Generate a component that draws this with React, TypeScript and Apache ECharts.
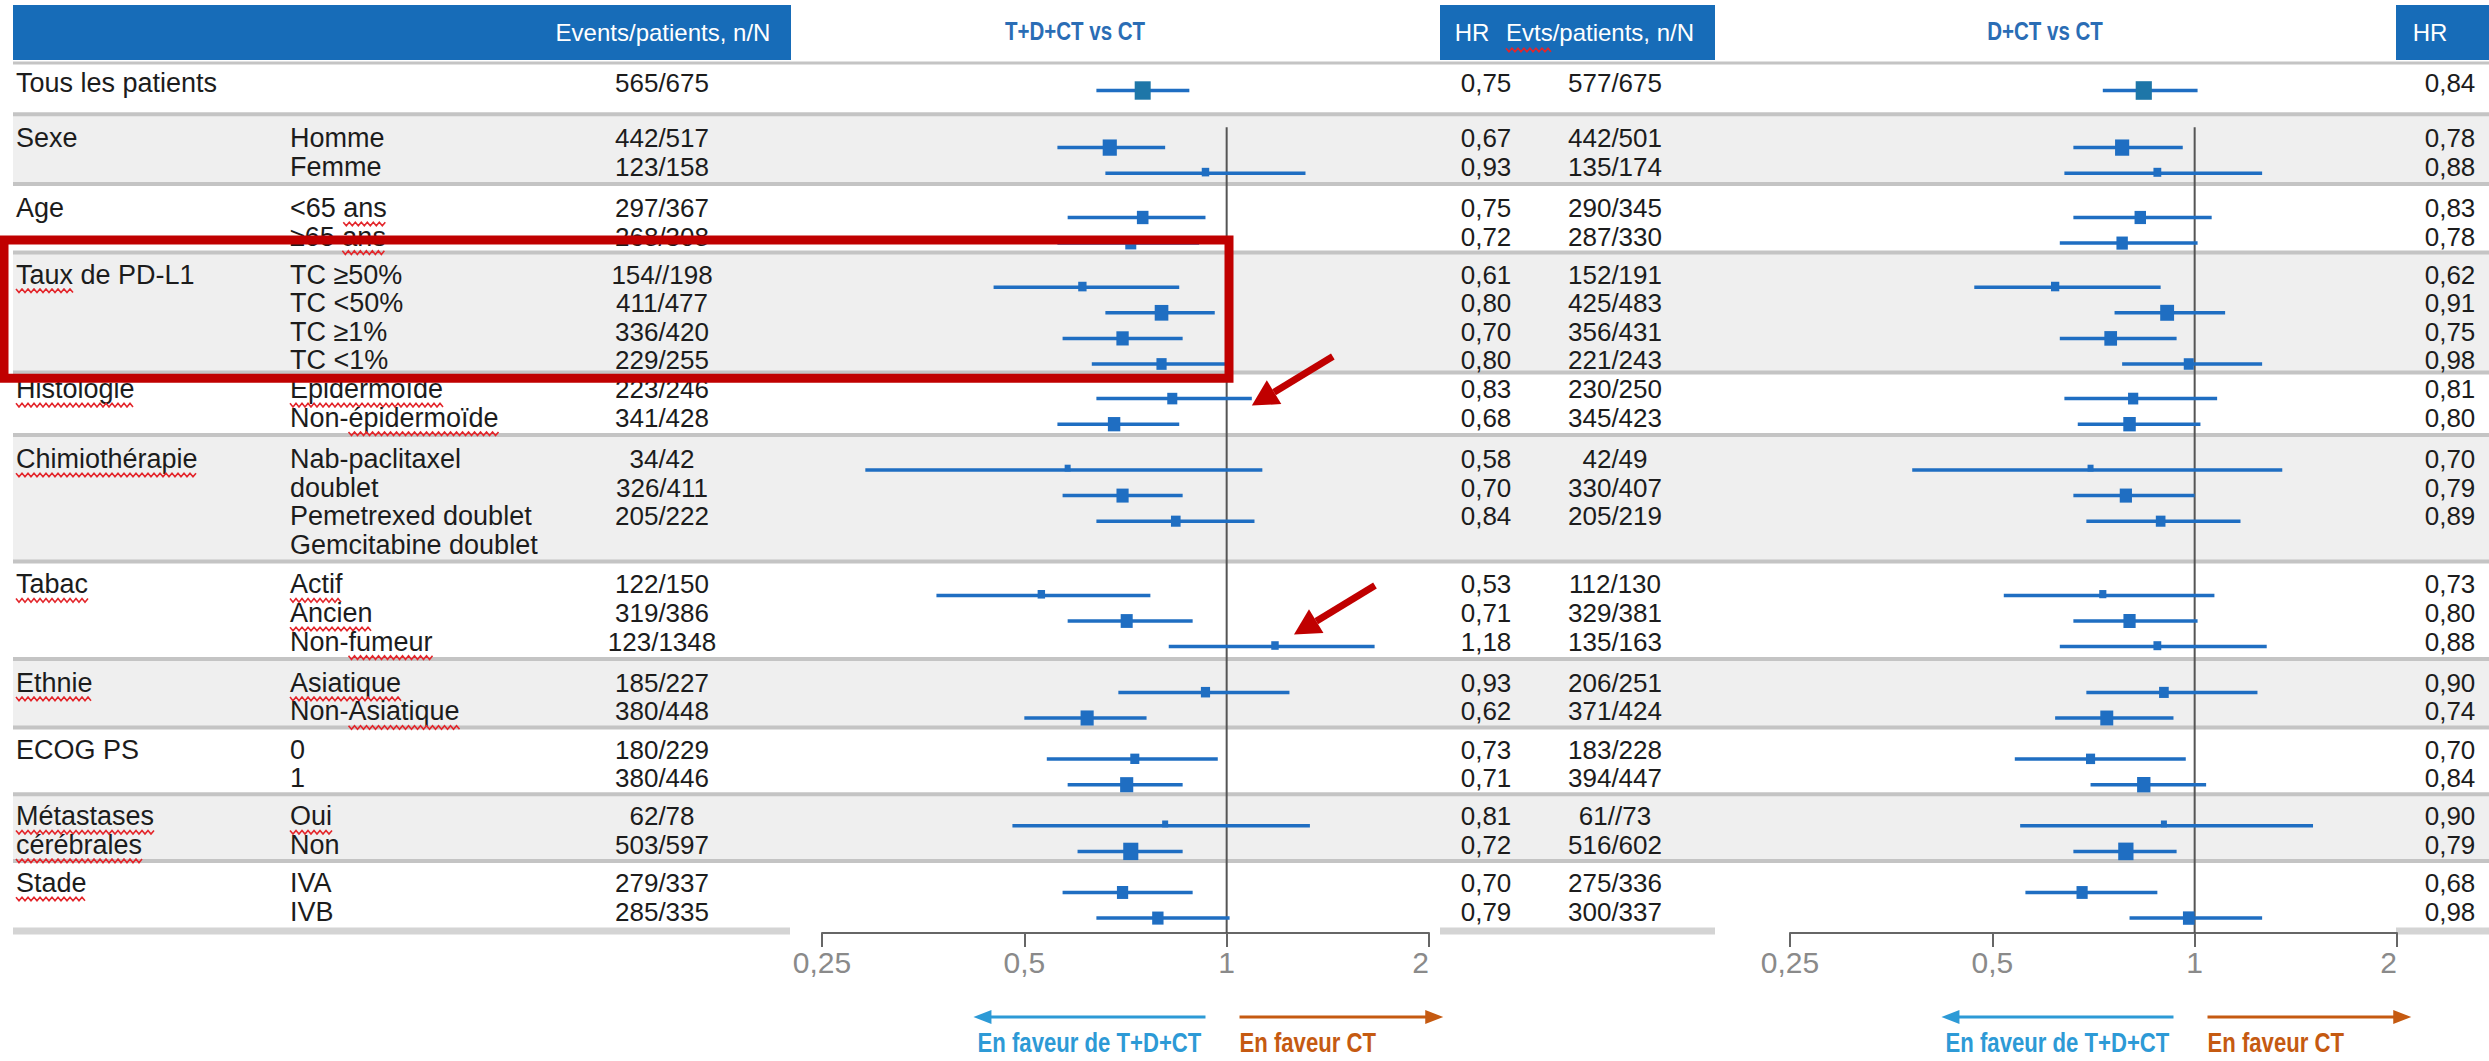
import React, { useEffect, useRef } from "react";
import * as echarts from "echarts";

const W = 2489;
const H = 1061;

// ---------------- data ----------------
const groupCol = ["Tous les patients", "Sexe", "", "Age", "", "Taux de PD-L1", "", "", "", "Histologie", "", "Chimiothérapie", "", "", "", "Tabac", "", "", "Ethnie", "", "ECOG PS", "", "Métastases", "cérébrales", "Stade", ""];
const subCol = ["", "Homme", "Femme", "<65 ans", "≥65 ans", "TC ≥50%", "TC <50%", "TC ≥1%", "TC <1%", "Epidermoïde", "Non-épidermoïde", "Nab-paclitaxel", "doublet", "Pemetrexed doublet", "Gemcitabine doublet", "Actif", "Ancien", "Non-fumeur", "Asiatique", "Non-Asiatique", "0", "1", "Oui", "Non", "IVA", "IVB"];
const rowGroup = [0, 1, 1, 2, 2, 3, 3, 3, 3, 4, 4, 5, 5, 5, 5, 6, 6, 6, 7, 7, 8, 8, 9, 9, 10, 10];

const nN_TDCT = ["565/675", "442/517", "123/158", "297/367", "268/308", "154//198", "411/477", "336/420", "229/255", "223/246", "341/428", "34/42", "326/411", "205/222", "", "122/150", "319/386", "123/1348", "185/227", "380/448", "180/229", "380/446", "62/78", "503/597", "279/337", "285/335"];
const hr_TDCT = [0.75, 0.67, 0.93, 0.75, 0.72, 0.61, 0.80, 0.70, 0.80, 0.83, 0.68, 0.58, 0.70, 0.84, null, 0.53, 0.71, 1.18, 0.93, 0.62, 0.73, 0.71, 0.81, 0.72, 0.70, 0.79];
const lo_TDCT = [0.64, 0.56, 0.66, 0.58, 0.56, 0.45, 0.66, 0.57, 0.63, 0.64, 0.56, 0.29, 0.57, 0.64, null, 0.37, 0.58, 0.82, 0.69, 0.50, 0.54, 0.58, 0.48, 0.60, 0.57, 0.64];
const hi_TDCT = [0.88, 0.81, 1.31, 0.93, 0.91, 0.85, 0.96, 0.86, 1.01, 1.09, 0.85, 1.13, 0.86, 1.10, null, 0.77, 0.89, 1.66, 1.24, 0.76, 0.97, 0.86, 1.33, 0.86, 0.89, 1.01];

const nN_DCT = ["577/675", "442/501", "135/174", "290/345", "287/330", "152/191", "425/483", "356/431", "221/243", "230/250", "345/423", "42/49", "330/407", "205/219", "", "112/130", "329/381", "135/163", "206/251", "371/424", "183/228", "394/447", "61//73", "516/602", "275/336", "300/337"];
const hr_DCT = [0.84, 0.78, 0.88, 0.83, 0.78, 0.62, 0.91, 0.75, 0.98, 0.81, 0.80, 0.70, 0.79, 0.89, null, 0.73, 0.80, 0.88, 0.90, 0.74, 0.70, 0.84, 0.90, 0.79, 0.68, 0.98];
const lo_DCT = [0.73, 0.66, 0.64, 0.66, 0.63, 0.47, 0.76, 0.63, 0.78, 0.64, 0.67, 0.38, 0.66, 0.69, null, 0.52, 0.66, 0.63, 0.69, 0.62, 0.54, 0.70, 0.55, 0.66, 0.56, 0.80];
const hi_DCT = [1.01, 0.96, 1.26, 1.06, 1.01, 0.89, 1.11, 0.94, 1.26, 1.08, 1.02, 1.35, 1.00, 1.17, null, 1.07, 1.01, 1.28, 1.24, 0.93, 0.97, 1.04, 1.50, 0.94, 0.88, 1.26];

const axisTicks = [0.25, 0.5, 1, 2];
const headerCells = ["Events/patients, n/N", "HR", "Evts/patients, n/N", "HR"];
const panelTitles = ["T+D+CT vs CT", "D+CT vs CT"];
const favourLabels = ["En faveur de T+D+CT", "En faveur CT"];
const favourLeftRange = [0.42, 0.93];
const favourRightRange = [1.045, 2.1];
const highlightedRows = [4, 8];
const arrowRows = [9, 17];
// words flagged by the spell checker: [row, column, text before, word]
const spellMarks: [number, string, string, string][] = [
  [3, "sub", "<65 ", "ans"], [4, "sub", "≥65 ", "ans"], [5, "grp", "", "Taux"], [9, "grp", "", "Histologie"],
  [9, "sub", "", "Epidermoïde"], [10, "sub", "Non-", "épidermoïde"], [11, "grp", "", "Chimiothérapie"],
  [15, "grp", "", "Tabac"], [15, "sub", "", "Actif"], [16, "sub", "", "Ancien"], [17, "sub", "Non-", "fumeur"],
  [18, "grp", "", "Ethnie"], [18, "sub", "", "Asiatique"], [19, "sub", "Non-", "Asiatique"],
  [22, "grp", "", "Métastases"], [23, "grp", "", "cérébrales"], [22, "sub", "", "Oui"], [24, "grp", "", "Stade"],
];

// ---------------- layout & style ----------------
const FONT = '"Liberation Sans", Arial, Helvetica, sans-serif';
const TXT = "#1c1c1c";
const BLUE = "#1f6ec2";
const HDR = "#176cb8";
const LBLUE = "#2d9ad6";
const ORANGE = "#c55a11";
const RED = "#c00000";
const SQUIG = "#e3262b";
const BAND = "#efefef";
const SEP = "#c4c4c4";
const NARROW = 0.82;
const LABEL_SIZE = 27;
const NUM_SIZE = 26;

const T_PITCH = 28.6, T_FIRST = 82.5;
const groupExtra = [0.944, 0.444, 0.332, 0.0, 0.444, 0.385, 0.444, 0.332, 0.332, 0.332];
const rowPos = (i: number) => {
  let p = i;
  for (let g = 0; g < rowGroup[i]; g++) p += groupExtra[g];
  return p;
};
const F_TOP = 11, F_AXIS = 933, F_OFF = 8, F_SQUEEZE = 3;
const F_MIN = (F_TOP - T_FIRST) / T_PITCH;
const F_MAX = (F_AXIS - T_FIRST) / T_PITCH;
const REF_FROM = rowPos(1) - 0.38;

const COL = { grp: 16, sub: 290, n1: 662, hr1: 1486, n2: 1615, hr2: 2450 };

const fmtHR = (v: number | null) => (v == null ? "" : v.toFixed(2).replace(".", ","));
const events = (s: string) => (s ? parseInt(s.split("/")[0], 10) : 0);
const markSize = (n: number) => Math.max(6, 16 * Math.sqrt(n / 565));

const forestRows = rowGroup.map((_, i) => i).filter((i) => hr_TDCT[i] != null);
const fpos: Record<number, number> = {};
forestRows.forEach((i) => {
  const g = rowGroup[i];
  const members = forestRows.filter((r) => rowGroup[r] === g);
  const k = members.indexOf(i);
  const c = (members.length - 1) / 2;
  fpos[i] = rowPos(i) + (F_OFF - F_SQUEEZE * (k - c)) / T_PITCH;
});

let measureCtx: CanvasRenderingContext2D | null = null;
const measure = (s: string, size: number) => {
  if (!s) return 0;
  if (!measureCtx) measureCtx = document.createElement("canvas").getContext("2d");
  if (!measureCtx) return s.length * size * 0.5;
  measureCtx.font = `${size}px "Liberation Sans", Arial, sans-serif`;
  return measureCtx.measureText(s).width;
};

const squiggle = (x0: number, x1: number, y: number) => {
  const pts: number[][] = [];
  let up = true;
  for (let x = x0; x <= x1; x += 3) {
    pts.push([x, y + (up ? -1.8 : 1.8)]);
    up = !up;
  }
  return { type: "polyline", silent: true, shape: { points: pts }, style: { stroke: SQUIG, lineWidth: 1.6, fill: "none" } };
};

const txt = (text: string, x: number, y: number, o: any = {}) => ({
  type: "text",
  x,
  y,
  scaleX: o.sx ?? 1,
  silent: true,
  style: {
    text,
    fill: o.fill ?? TXT,
    fontSize: o.size ?? LABEL_SIZE,
    fontFamily: FONT,
    fontWeight: o.weight ?? "normal",
    align: o.align ?? "left",
    verticalAlign: "middle",
  },
});

function sepPos(g: number) {
  if (g === 0) return (63 - T_FIRST) / T_PITCH;
  const last = rowGroup.lastIndexOf(g - 1);
  const first = rowGroup.indexOf(g);
  const f = g === 1 ? 0.57 : 0.42;
  return rowPos(last) + f * (rowPos(first) - rowPos(last));
}
const bottomPos = () => rowPos(rowGroup.length - 1) + 0.68;

function buildOption() {
  const groups = Array.from(new Set(rowGroup));
  const bandData = groups.map((g) => [g, sepPos(g), g < groups.length - 1 ? sepPos(g + 1) : bottomPos()]);
  const tableData = rowGroup.map((_, i) => [i, rowPos(i)]);

  const forestData = (hr: any[], lo: any[], hi: any[], nN: string[]) =>
    forestRows.map((i) => [hr[i], lo[i], hi[i], fpos[i], markSize(events(nN[i])), i]);

  const forestItem = (params: any, api: any) => {
    const hr = api.value(0), lo = api.value(1), hi = api.value(2), pos = api.value(3), s = api.value(4), i = api.value(5);
    const a = api.coord([lo, pos]);
    const b = api.coord([hi, pos]);
    const m = api.coord([hr, pos]);
    const w = s, h = s * 1.15;
    const lift = Math.max(0, (11 - h) * 0.45);
    return {
      type: "group",
      children: [
        { type: "line", shape: { x1: a[0], y1: a[1], x2: b[0], y2: b[1] }, style: { stroke: BLUE, lineWidth: 3.5 } },
        { type: "rect", shape: { x: m[0] - w / 2, y: m[1] - h / 2 - lift, width: w, height: h }, style: { fill: i === 0 ? "#1e76a8" : BLUE } },
      ],
    };
  };

  const refItem = (params: any, api: any) => {
    const p0 = api.coord([1, REF_FROM]);
    const p1 = api.coord([1, F_MAX]);
    return { type: "line", shape: { x1: p0[0], y1: p0[1], x2: p1[0], y2: p1[1] }, style: { stroke: "#555", lineWidth: 2 } };
  };

  const favourItem = (params: any, api: any) => {
    const yAx = api.coord([1, F_MAX])[1];
    const y = yAx + 84, ty = yAx + 110;
    const xL0 = api.coord([favourLeftRange[0], 0])[0];
    const xL1 = api.coord([favourLeftRange[1], 0])[0];
    const xR0 = api.coord([favourRightRange[0], 0])[0];
    const xR1 = api.coord([favourRightRange[1], 0])[0];
    return {
      type: "group",
      children: [
        { type: "line", shape: { x1: xL1, y1: y, x2: xL0 + 14, y2: y }, style: { stroke: LBLUE, lineWidth: 3 } },
        { type: "polygon", shape: { points: [[xL0, y], [xL0 + 18, y - 7], [xL0 + 18, y + 7]] }, style: { fill: LBLUE } },
        { type: "line", shape: { x1: xR0, y1: y, x2: xR1 - 14, y2: y }, style: { stroke: ORANGE, lineWidth: 3 } },
        { type: "polygon", shape: { points: [[xR1, y], [xR1 - 18, y - 7], [xR1 - 18, y + 7]] }, style: { fill: ORANGE } },
        txt(favourLabels[0], (xL0 + xL1) / 2, ty, { fill: LBLUE, weight: "bold", size: 27, sx: NARROW, align: "center" }),
        txt(favourLabels[1], xR0, ty, { fill: ORANGE, weight: "bold", size: 27, sx: NARROW, align: "left" }),
      ],
    };
  };

  const redArrowItem = (params: any, api: any) => {
    const m = api.coord([api.value(0), api.value(1)]);
    const off = params.dataIndex === 0 ? [0, 7] : [19, -12];
    const tip = [m[0] + off[0], m[1] + off[1]];
    const d = [-81, 49];
    const L = Math.hypot(d[0], d[1]);
    const u = [d[0] / L, d[1] / L];
    const n = [-u[1], u[0]];
    const tail = [tip[0] - d[0], tip[1] - d[1]];
    const hl = 26, hw = 14;
    const base = [tip[0] - u[0] * hl, tip[1] - u[1] * hl];
    return {
      type: "group",
      children: [
        { type: "line", shape: { x1: tail[0], y1: tail[1], x2: base[0], y2: base[1] }, style: { stroke: RED, lineWidth: 7 } },
        {
          type: "polygon",
          shape: { points: [tip, [base[0] + n[0] * hw, base[1] + n[1] * hw], [base[0] - n[0] * hw, base[1] - n[1] * hw]] },
          style: { fill: RED },
        },
      ],
    };
  };

  const bandItem = (params: any, api: any) => {
    const g = api.value(0), t = api.value(1), b = api.value(2);
    const pt = api.coord([13, t]);
    const pb = api.coord([W, b]);
    const kids: any[] = [];
    if (g % 2 === 1) kids.push({ type: "rect", shape: { x: pt[0], y: pt[1], width: pb[0] - pt[0], height: pb[1] - pt[1] }, style: { fill: BAND } });
    kids.push({ type: "line", shape: { x1: pt[0], y1: pt[1], x2: pb[0], y2: pt[1] }, style: { stroke: SEP, lineWidth: g === 0 ? 3 : 4 } });
    if (g === groups.length - 1) {
      const segs = [[13, 790], [1440, 1715], [2396, W]];
      segs.forEach(([x0, x1]) => {
        const a = api.coord([x0, b]);
        const c = api.coord([x1, b]);
        kids.push({ type: "line", shape: { x1: a[0], y1: a[1], x2: c[0], y2: c[1] }, style: { stroke: "#d4d4d4", lineWidth: 7 } });
      });
    }
    return { type: "group", children: kids };
  };

  const tableItem = (params: any, api: any) => {
    const i = api.value(0), pos = api.value(1);
    const y = api.coord([0, pos])[1];
    const X = (v: number) => api.coord([v, pos])[0];
    const kids: any[] = [];
    const add = (s: string, x: number, align: string, size: number) => {
      if (s) kids.push(txt(s, X(x), y, { align, size }));
    };
    add(groupCol[i], COL.grp, "left", LABEL_SIZE);
    add(subCol[i], COL.sub, "left", LABEL_SIZE);
    add(nN_TDCT[i], COL.n1, "center", NUM_SIZE);
    add(fmtHR(hr_TDCT[i]), COL.hr1, "center", NUM_SIZE);
    add(nN_DCT[i], COL.n2, "center", NUM_SIZE);
    add(fmtHR(hr_DCT[i]), COL.hr2, "center", NUM_SIZE);
    spellMarks.filter((s) => s[0] === i).forEach(([, col, pre, word]) => {
      const x0 = X(col === "grp" ? COL.grp : COL.sub) + measure(pre, LABEL_SIZE);
      kids.push(squiggle(x0, x0 + measure(word, LABEL_SIZE), y + 16));
    });
    return { type: "group", children: kids };
  };

  const boxItem = (params: any, api: any) => {
    const t = api.coord([4, rowPos(highlightedRows[0]) + 0.12]);
    const b = api.coord([1229, rowPos(highlightedRows[1]) + 0.62]);
    return { type: "rect", shape: { x: t[0], y: t[1], width: b[0] - t[0], height: b[1] - t[1] }, style: { fill: "none", stroke: RED, lineWidth: 9 } };
  };

  const logX = (gridIndex: number) => ({
    type: "log",
    logBase: 2,
    gridIndex,
    min: axisTicks[0],
    max: axisTicks[axisTicks.length - 1],
    position: "bottom",
    axisLine: { show: true, onZero: false, lineStyle: { color: "#666", width: 2 } },
    axisTick: { show: true, length: 14, lineStyle: { color: "#666", width: 2 } },
    axisLabel: {
      show: true, color: "#8a8a8a", fontSize: 30, fontFamily: FONT, margin: 14, alignMaxLabel: "right",
      formatter: (v: number) => String(v).replace(".", ","),
    },
    splitLine: { show: false },
    minorTick: { show: false },
  });
  const forestY = (gridIndex: number) => ({ type: "value", gridIndex, inverse: true, min: F_MIN, max: F_MAX, show: false });

  const evW = measure(headerCells[2], 24);
  const evX0 = 1600 - evW / 2;
  const headerGraphic: any[] = [
    { type: "rect", shape: { x: 13, y: 5, width: 778, height: 55 }, style: { fill: HDR }, silent: true },
    { type: "rect", shape: { x: 1440, y: 5, width: 275, height: 55 }, style: { fill: HDR }, silent: true },
    { type: "rect", shape: { x: 2396, y: 5, width: W - 2396, height: 55 }, style: { fill: HDR }, silent: true },
    txt(headerCells[0], 663, 32, { fill: "#fff", align: "center", size: 24 }),
    txt(headerCells[1], 1472, 32, { fill: "#fff", align: "center", size: 24 }),
    txt(headerCells[2], 1600, 32, { fill: "#fff", align: "center", size: 24 }),
    txt(headerCells[3], 2430, 32, { fill: "#fff", align: "center", size: 24 }),
    squiggle(evX0, evX0 + measure("Evts", 24), 50),
    txt(panelTitles[0], 1075, 31, { fill: "#2a6db5", weight: "bold", size: 25, sx: NARROW, align: "center" }),
    txt(panelTitles[1], 2045, 31, { fill: "#2a6db5", weight: "bold", size: 25, sx: NARROW, align: "center" }),
  ];

  return {
    animation: false,
    backgroundColor: "#ffffff",
    grid: [
      { left: 0, top: 0, width: W, height: H },
      { left: 822, top: F_TOP, width: 607, height: F_AXIS - F_TOP },
      { left: 1790, top: F_TOP, width: 607, height: F_AXIS - F_TOP },
    ],
    xAxis: [{ type: "value", gridIndex: 0, min: 0, max: W, show: false }, logX(1), logX(2)],
    yAxis: [
      { type: "value", gridIndex: 0, inverse: true, min: -T_FIRST / T_PITCH, max: (H - T_FIRST) / T_PITCH, show: false },
      forestY(1),
      forestY(2),
    ],
    graphic: headerGraphic.map((g) => ({ ...g, z: 5 })),
    series: [
      { type: "custom", name: "bands", xAxisIndex: 0, yAxisIndex: 0, z: 0, silent: true, renderItem: bandItem, data: bandData, encode: { x: 0, y: [1, 2] } },
      { type: "custom", name: "ref1", xAxisIndex: 1, yAxisIndex: 1, z: 1, silent: true, renderItem: refItem, data: [[1, 0]], encode: { x: 0, y: 1 } },
      { type: "custom", name: "ref2", xAxisIndex: 2, yAxisIndex: 2, z: 1, silent: true, renderItem: refItem, data: [[1, 0]], encode: { x: 0, y: 1 } },
      { type: "custom", name: "T+D+CT vs CT", xAxisIndex: 1, yAxisIndex: 1, z: 3, silent: true, renderItem: forestItem, data: forestData(hr_TDCT, lo_TDCT, hi_TDCT, nN_TDCT), encode: { x: [0, 1, 2], y: 3 } },
      { type: "custom", name: "D+CT vs CT", xAxisIndex: 2, yAxisIndex: 2, z: 3, silent: true, renderItem: forestItem, data: forestData(hr_DCT, lo_DCT, hi_DCT, nN_DCT), encode: { x: [0, 1, 2], y: 3 } },
      { type: "custom", name: "table", xAxisIndex: 0, yAxisIndex: 0, z: 4, silent: true, renderItem: tableItem, data: tableData, encode: { x: 0, y: 1 } },
      { type: "custom", name: "fav1", xAxisIndex: 1, yAxisIndex: 1, z: 4, silent: true, renderItem: favourItem, data: [[1, 0]], encode: { x: 0, y: 1 } },
      { type: "custom", name: "fav2", xAxisIndex: 2, yAxisIndex: 2, z: 4, silent: true, renderItem: favourItem, data: [[1, 0]], encode: { x: 0, y: 1 } },
      { type: "custom", name: "box", xAxisIndex: 0, yAxisIndex: 0, z: 10, silent: true, renderItem: boxItem, data: [[0, rowPos(highlightedRows[0])]], encode: { x: 0, y: 1 } },
      {
        type: "custom", name: "arrows", xAxisIndex: 1, yAxisIndex: 1, z: 10, silent: true, renderItem: redArrowItem,
        data: [[hi_TDCT[arrowRows[0]], fpos[arrowRows[0]]], [hr_TDCT[arrowRows[1]], fpos[arrowRows[1]]]],
        encode: { x: 0, y: 1 },
      },
    ],
  };
}

export default function App() {
  const ref = useRef<HTMLDivElement>(null);
  useEffect(() => {
    const chart = echarts.init(ref.current!, null, { renderer: "svg" });
    chart.setOption(buildOption() as any);
    return () => chart.dispose();
  }, []);
  return <div ref={ref} style={{ position: "absolute", left: 0, top: 0, width: W, height: H, background: "#fff" }} />;
}
